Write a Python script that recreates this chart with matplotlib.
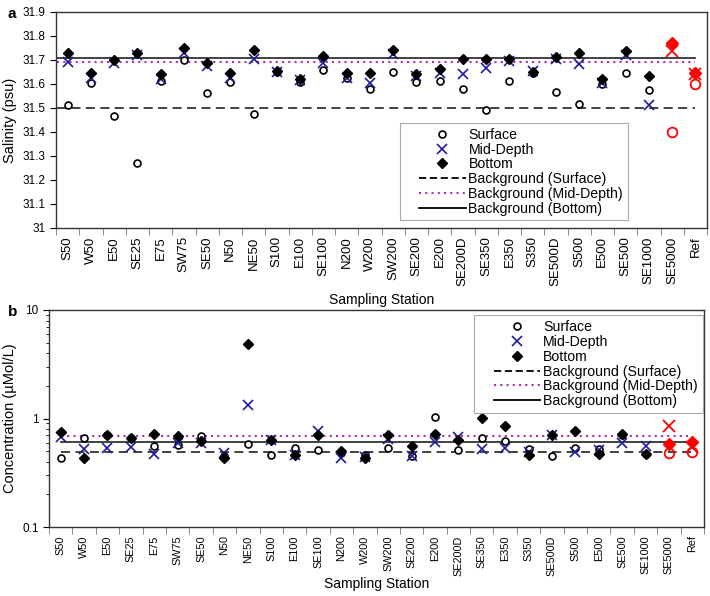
import numpy as np
import matplotlib
matplotlib.use("Agg")
import matplotlib.pyplot as plt
from matplotlib.lines import Line2D
from matplotlib.legend_handler import HandlerLine2D

plt.rcParams['font.family'] = ['Liberation Sans', 'DejaVu Sans']

stations = ["S50", "W50", "E50", "SE25", "E75", "SW75", "SE50", "N50", "NE50", "S100",
            "E100", "SE100", "N200", "W200", "SW200", "SE200", "E200", "SE200D", "SE350",
            "E350", "S350", "SE500D", "S500", "E500", "SE500", "SE1000", "SE5000", "Ref"]

# salinity (psu)
sal_surface = [31.514, 31.603, 31.468, 31.272, 31.614, 31.700, 31.561, 31.607, 31.474, 31.650,
               31.608, 31.657, 31.625, 31.579, 31.651, 31.607, 31.611, 31.578, 31.492,
               31.614, 31.645, 31.565, 31.515, 31.600, 31.647, 31.574, 31.399, 31.599]
sal_mid = [31.693, 31.626, 31.686, 31.720, 31.620, 31.728, 31.675, 31.626, 31.705, 31.650,
           31.617, 31.689, 31.626, 31.603, 31.724, 31.633, 31.644, 31.642, 31.668,
           31.696, 31.655, 31.703, 31.682, 31.604, 31.721, 31.512, 31.739, 31.640]
sal_bottom = [31.728, 31.644, 31.700, 31.728, 31.642, 31.751, 31.689, 31.647, 31.742, 31.654,
              31.622, 31.718, 31.647, 31.647, 31.742, 31.642, 31.662, 31.704, 31.704,
              31.705, 31.651, 31.714, 31.728, 31.622, 31.738, 31.635, 31.772, 31.644]
sal_bg = {"surface": 31.50, "mid": 31.693, "bottom": 31.71}

# concentration (uMol/L)
conc_surface = [0.437, 0.658, 0.700, 0.660, 0.555, 0.564, 0.687, 0.450, 0.583, 0.462,
                0.540, 0.510, 0.480, 0.462, 0.538, 0.452, 1.03, 0.510, 0.658,
                0.617, 0.518, 0.452, 0.536, 0.520, 0.710, 0.470, 0.482, 0.490]
conc_mid = [0.676, 0.529, 0.540, 0.547, 0.469, 0.596, 0.600, 0.482, 1.32, 0.635,
            0.460, 0.764, 0.437, 0.440, 0.650, 0.448, 0.608, 0.680, 0.518,
            0.536, 0.490, 0.700, 0.490, 0.510, 0.596, 0.555, 0.855, 0.547]
conc_bottom = [0.752, 0.430, 0.701, 0.668, 0.716, 0.687, 0.622, 0.437, 4.84, 0.635,
               0.459, 0.700, 0.499, 0.432, 0.700, 0.555, 0.714, 0.640, 1.02,
               0.849, 0.459, 0.700, 0.769, 0.469, 0.716, 0.466, 0.588, 0.605]
conc_bg = {"surface": 0.486, "mid": 0.687, "bottom": 0.608}

n = len(stations)
x = np.arange(n)
nb = 26  # last two stations drawn in red
blue = "#1c1c9c"
purple = "#b02cb0"

fig = plt.figure(figsize=(7.1, 5.96), dpi=100)
ax1 = fig.add_axes([56/710, 1-228/596, 651/710, 216/596])
ax2 = fig.add_axes([49/710, 1-527/596, 655/710, 217/596])


def draw(ax, surf, mid, bot, bg, line_x, xfs, lpad):
    ax.plot(line_x, [bg["surface"]]*2, color="#333333", ls=(0, (5, 3)), lw=1.3, zorder=1)
    ax.plot(line_x, [bg["mid"]]*2, color=purple, ls=(0, (1, 2)), lw=1.5, zorder=1)
    ax.plot(line_x, [bg["bottom"]]*2, color="#333333", ls="-", lw=1.3, zorder=1)
    ax.plot(x[:nb], surf[:nb], ls="none", marker="o", mfc="white", mec="black", ms=5, mew=1.2, zorder=3)
    ax.plot(x[:nb], mid[:nb], ls="none", marker="x", color=blue, ms=6.5, mew=1.2, zorder=4)
    ax.plot(x[:nb], bot[:nb], ls="none", marker="D", color="black", ms=5, zorder=5)
    ax.plot(x[nb:], surf[nb:], ls="none", marker="o", mfc="none", mec="red", ms=7, mew=1.3, zorder=3)
    ax.plot(x[nb:], mid[nb:], ls="none", marker="x", color="red", ms=8, mew=1.3, zorder=4)
    ax.plot(x[nb:], bot[nb:], ls="none", marker="D", color="red", ms=6.5, zorder=5)

    ax.set_xlim(-0.5, n - 0.5)
    ax.set_xticks(x)
    ax.set_xticklabels(stations, rotation=90, fontsize=xfs)
    ax.set_xticks(np.arange(n + 1) - 0.5, minor=True)
    ax.tick_params(axis="x", which="major", length=0, pad=6)
    ax.tick_params(axis="x", which="minor", length=5, direction="out", color="#777777")
    ax.tick_params(axis="y", labelsize=8.5, direction="out", length=4)
    ax.set_xlabel("Sampling Station", fontsize=10, labelpad=lpad)
    for s in ax.spines.values():
        s.set_linewidth(1.0)
        s.set_color("#333333")


draw(ax1, sal_surface, sal_mid, sal_bottom, sal_bg, [-0.45, n - 1], 9.5, 5)
ax1.set_ylim(31, 31.9)
yt = np.round(np.arange(31, 31.95, 0.1), 1)
ax1.set_yticks(yt)
ax1.set_yticklabels(["31"] + ["%.1f" % v for v in yt[1:]])
ax1.set_ylabel("Salinity (psu)", fontsize=10.5)

draw(ax2, conc_surface, conc_mid, conc_bottom, conc_bg, [0, n - 1], 7.8, 1)
ax2.set_yscale("log")
ax2.set_ylim(0.1, 10)
ax2.set_yticks([0.1, 1, 10])
ax2.set_yticklabels(["0.1", "1", "10"])
ax2.tick_params(axis="y", which="minor", length=2, direction="out")
ax2.set_ylabel("Concentration (\u00b5Mol/L)", fontsize=10.5)

handles = [
    Line2D([], [], ls="none", marker="o", mfc="white", mec="black", ms=5, mew=1.2),
    Line2D([], [], ls="none", marker="x", color=blue, ms=6.5, mew=1.2),
    Line2D([], [], ls="none", marker="D", color="black", ms=5),
    Line2D([], [], color="black", ls=(0, (4, 2)), lw=1.3),
    Line2D([], [], color=purple, ls=(0, (1, 2)), lw=1.5),
    Line2D([], [], color="black", ls="-", lw=1.3),
]
labels = ["Surface", "Mid-Depth", "Bottom", "Background (Surface)",
          "Background (Mid-Depth)", "Background (Bottom)"]
leg_kw = dict(fontsize=10.2, handlelength=4.3, labelspacing=0.05, borderpad=0.35,
              handletextpad=0.2, fancybox=False, framealpha=1, edgecolor="#aaaaaa",
              handler_map={Line2D: HandlerLine2D(xpad=1.0)})
leg1 = ax1.legend(handles, labels, loc="upper left", bbox_to_anchor=(0.528, 0.486),
                  borderaxespad=0, **leg_kw)
leg2 = ax2.legend(handles, labels, loc="upper right", bbox_to_anchor=(0.998, 0.975),
                  borderaxespad=0, **leg_kw)
for lg in (leg1, leg2):
    lg.get_frame().set_linewidth(0.8)

fig.text(8/710, 1-14/596, "a", fontsize=11, fontweight="bold", va="center")
fig.text(8/710, 1-312/596, "b", fontsize=11, fontweight="bold", va="center")

fig.savefig("out.png", dpi=100)
